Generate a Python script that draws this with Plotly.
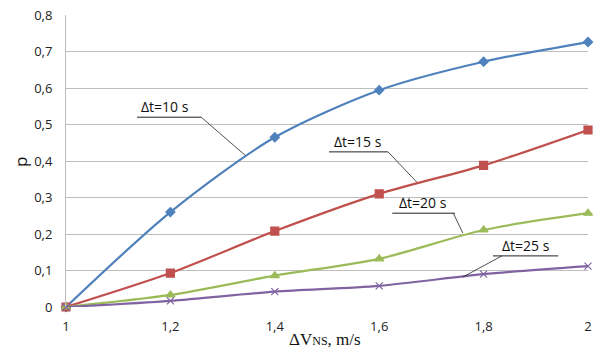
import plotly.graph_objects as go

# Relative speed difference (m/s) and probability p for each time step
dv = [1.0, 1.2, 1.4, 1.6, 1.8, 2.0]
p_dt10 = [0.0, 0.260, 0.465, 0.594, 0.672, 0.726]
p_dt15 = [0.0, 0.093, 0.208, 0.310, 0.388, 0.485]
p_dt20 = [0.0, 0.033, 0.086, 0.132, 0.211, 0.257]
p_dt25 = [0.0, 0.017, 0.042, 0.058, 0.090, 0.112]

series_names = ["Δt=10 s", "Δt=15 s", "Δt=20 s", "Δt=25 s"]
series_values = [p_dt10, p_dt15, p_dt20, p_dt25]
colors = ["#4F81BD", "#C0504D", "#9BBB59", "#8064A2"]
symbols = ["diamond", "square", "triangle-up", "x-thin-open"]
sizes = [7, 8, 8, 7]

# Callout labels: text position, underline span and leader-line end (data units)
callouts = [
    # text_x, underline x0, x1, underline y, leader start x, leader end x, leader end y
    (1.190, 1.136, 1.259, 0.520, 1.259, 1.343, 0.416),
    (1.559, 1.504, 1.617, 0.425, 1.617, 1.672, 0.342),
    (1.684, 1.625, 1.745, 0.257, 1.742, 1.760, 0.203),
    (1.881, 1.818, 1.943, 0.140, 1.835, 1.760, 0.082),
]

fig = go.Figure()
for name, vals, col, sym, sz in zip(series_names, series_values, colors, symbols, sizes):
    fig.add_trace(go.Scatter(
        x=dv, y=vals, name=name, mode="lines+markers",
        line=dict(color=col, width=2.2, shape="spline", smoothing=0.8),
        marker=dict(symbol=sym, size=sz, color=col,
                    line=dict(color=col, width=1.2)),
        cliponaxis=False,
    ))

shapes = []
annotations = []
for (name, (tx, ux0, ux1, uy, lx0, lx1, ly1)) in zip(series_names, callouts):
    shapes.append(dict(type="line", xref="x", yref="y", x0=ux0, x1=ux1, y0=uy, y1=uy,
                       line=dict(color="#222222", width=1)))
    shapes.append(dict(type="line", xref="x", yref="y", x0=lx0, x1=lx1, y0=uy, y1=ly1,
                       line=dict(color="#222222", width=0.8)))
    annotations.append(dict(x=tx, y=uy, xref="x", yref="y", text=name, showarrow=False,
                            xanchor="center", yanchor="bottom", yshift=-1,
                            font=dict(family="Open Sans, Liberation Sans, sans-serif",
                                      size=14, color="#111111")))

# Axis titles placed as annotations so they sit close to the tick labels
annotations.append(dict(
    x=0.496, y=0, xref="paper", yref="paper", yshift=-44,
    xanchor="center", yanchor="bottom", showarrow=False,
    text="ΔV<span style='font-size:12px'>NS</span>, m/s",
    font=dict(family="Liberation Serif, serif", size=17, color="#111111"),
))
annotations.append(dict(
    x=0, y=0.497, xref="paper", yref="paper", xshift=-45,
    xanchor="center", yanchor="middle", showarrow=False, textangle=-90,
    text="p",
    font=dict(family="Open Sans, Liberation Sans, sans-serif", size=17, color="#111111"),
))

fig.update_layout(
    width=594, height=351,
    margin=dict(l=66, r=6, t=15, b=44, autoexpand=False),
    paper_bgcolor="white", plot_bgcolor="white",
    separators=", ",
    showlegend=False,
    shapes=shapes,
    annotations=annotations,
    font=dict(family="Open Sans, Liberation Sans, sans-serif", size=13, color="#222222"),
)
fig.update_xaxes(
    range=[1, 2], dtick=0.2, tick0=1, automargin=False,
    showgrid=False, zeroline=False, showline=False,
    ticks="", ticklabelstandoff=10,
)
fig.update_yaxes(
    range=[0, 0.8], dtick=0.1, tick0=0, automargin=False,
    showgrid=True, gridcolor="#BEBEBE", gridwidth=1,
    zeroline=False, showline=True, linecolor="#BEBEBE", linewidth=1,
    ticks="", ticklabelstandoff=10,
)

fig.write_html("out.html")
